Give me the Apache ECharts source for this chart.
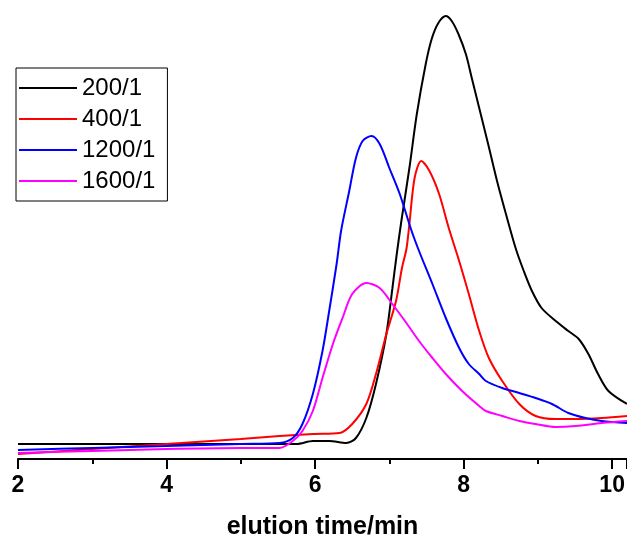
<!DOCTYPE html>
<html>
<head>
<meta charset="utf-8">
<script src="https://cdn.jsdelivr.net/npm/echarts@6/dist/echarts.min.js"></script>
<style>
  html, body { margin: 0; padding: 0; background: #fff; }
  #main { width: 627px; height: 539px; }
</style>
</head>
<body>
<div id="main"></div>
<script>
// elution time (min) and detector signal (arbitrary units)
var names = ['200/1', '400/1', '1200/1', '1600/1'];
var colors = ['#000000', '#ff0000', '#0000ff', '#ff00ff'];

var t200 = [2, 3, 4, 5, 5.75, 5.97, 6.19, 6.42, 6.55, 6.69, 6.82, 6.96, 7.04, 7.1, 7.16, 7.27, 7.37, 7.49, 7.57, 7.66, 7.76, 7.84, 7.93, 8.03, 8.11, 8.21, 8.33, 8.45, 8.57, 8.7, 8.81, 8.92, 9.05, 9.24, 9.41, 9.55, 9.68, 9.81, 9.95, 10.2];
var v200 = [15, 15, 15, 15, 15, 18, 18, 16, 21, 41, 75, 125, 170, 205, 237, 291, 345, 395, 420, 436, 443, 438, 425, 405, 381, 351, 315, 278, 245, 211, 188, 168, 151, 138, 128, 120, 105, 85, 68, 55];

var t400 = [2, 3, 4, 5, 5.52, 5.97, 6.33, 6.5, 6.69, 6.82, 6.96, 7.09, 7.17, 7.23, 7.27, 7.34, 7.43, 7.54, 7.67, 7.8, 7.94, 8.07, 8.21, 8.34, 8.52, 8.75, 8.97, 9.24, 9.51, 9.86, 10.2];
var v400 = [5, 10, 15, 20, 23, 25, 26, 35, 55, 85, 125, 158, 191, 210, 235, 281, 298, 288, 265, 231, 198, 165, 128, 101, 78, 55, 43, 40, 40, 41, 43];

var t1200 = [2, 3, 4, 5, 5.52, 5.7, 5.83, 5.97, 6.1, 6.19, 6.29, 6.35, 6.46, 6.55, 6.64, 6.76, 6.87, 7.0, 7.14, 7.3, 7.4, 7.58, 7.76, 7.94, 8.07, 8.21, 8.3, 8.52, 8.75, 8.97, 9.19, 9.41, 9.64, 9.86, 10.2];
var v1200 = [9, 11, 13, 15, 16, 21, 35, 65, 108, 148, 195, 228, 268, 301, 318, 323, 315, 291, 265, 228, 208, 175, 141, 111, 95, 85, 78, 71, 66, 61, 55, 46, 41, 38, 36];

var t1600 = [2, 3, 4, 5, 5.52, 5.7, 5.83, 5.97, 6.1, 6.24, 6.37, 6.5, 6.69, 6.87, 7.04, 7.23, 7.4, 7.58, 7.76, 7.98, 8.21, 8.3, 8.52, 8.75, 8.97, 9.24, 9.51, 9.86, 10.2];
var v1600 = [6, 8, 10, 11, 11, 18, 28, 48, 81, 115, 141, 165, 176, 171, 155, 136, 118, 101, 85, 68, 53, 48, 43, 38, 35, 32, 33, 36, 38];

var xTicks = [2, 4, 6, 8, 10];

function pairs(t, v) {
  var out = [];
  for (var i = 0; i < t.length; i++) out.push([t[i], v[i]]);
  return out;
}

var seriesData = [pairs(t200, v200), pairs(t400, v400), pairs(t1200, v1200), pairs(t1600, v1600)];

var chart = echarts.init(document.getElementById('main'));
var option = {
  animation: false,
  backgroundColor: '#fff',
  grid: { left: 18, right: 0, top: 0, bottom: 80, containLabel: false, outerBoundsMode: 'none' },
  legend: {
    orient: 'vertical',
    left: 16,
    top: 68,
    padding: [8, 12, 8, 3],
    itemGap: 7,
    itemWidth: 58,
    itemHeight: 2,
    borderColor: '#000',
    borderWidth: 1,
    icon: 'rect',
    textStyle: { fontFamily: 'Liberation Sans, Arial, sans-serif', fontSize: 24, lineHeight: 24, color: '#000' },
    data: names
  },
  xAxis: {
    type: 'value',
    min: 2,
    max: 10.2,
    interval: 2,
    name: 'elution time/min',
    nameLocation: 'middle',
    nameGap: 56,
    nameTextStyle: { fontFamily: 'Liberation Sans, Arial, sans-serif', fontSize: 25, fontWeight: 'bold', color: '#000' },
    axisLine: { lineStyle: { color: '#000', width: 2 } },
    axisTick: { inside: false, length: 10, lineStyle: { color: '#000', width: 2 } },
    minorTick: { show: true, splitNumber: 2, length: 5, lineStyle: { color: '#000', width: 2 } },
    splitLine: { show: false },
    axisLabel: {
      margin: 15,
      fontFamily: 'Liberation Sans, Arial, sans-serif',
      fontSize: 23,
      fontWeight: 'bold',
      color: '#000',
      showMaxLabel: false,
      formatter: function (v) { return xTicks.indexOf(v) >= 0 ? String(v) : ''; }
    }
  },
  yAxis: {
    type: 'value',
    min: 0,
    max: 459,
    show: false
  },
  series: names.map(function (n, i) {
    return {
      name: n,
      type: 'line',
      data: seriesData[i],
      smooth: 0.3,
      showSymbol: false,
      symbol: 'none',
      lineStyle: { color: colors[i], width: 2 },
      itemStyle: { color: colors[i] }
    };
  })
};
chart.setOption(option);
</script>
</body>
</html>
